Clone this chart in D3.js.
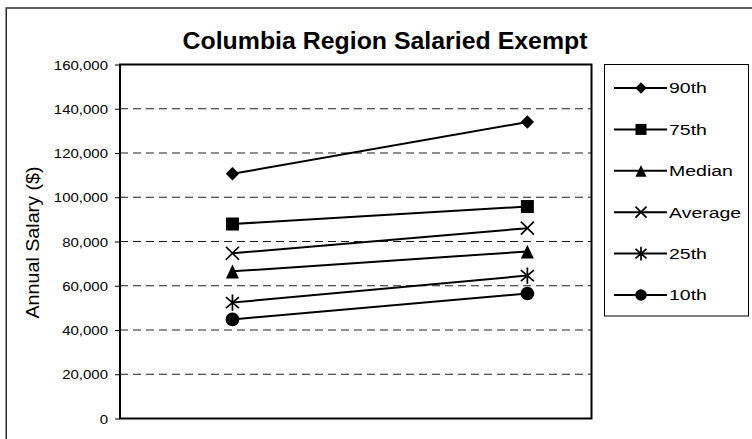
<!DOCTYPE html>
<html>
<head>
<meta charset="utf-8">
<script src="https://cdn.jsdelivr.net/npm/d3@7/dist/d3.min.js"></script>
<style>
  html, body { margin: 0; padding: 0; background: #fff; }
  svg { display: block; }
  text { font-family: "Liberation Sans", Arial, sans-serif; fill: #000; }
</style>
</head>
<body>
<svg id="chart" width="752" height="439"></svg>
<script>
// Salary percentiles, two survey periods
const categories = ["Period 1", "Period 2"];
const seriesNames = ["90th", "75th", "Median", "Average", "25th", "10th"];
const series90th    = [110600, 134000];
const series75th    = [87900, 95800];
const seriesMedian  = [66500, 75500];
const seriesAverage = [74700, 86000];
const series25th    = [52400, 64600];
const series10th    = [44800, 56500];
const yTicks = [0, 20000, 40000, 60000, 80000, 100000, 120000, 140000, 160000];
const chartTitle = "Columbia Region Salaried Exempt";
const yAxisTitle = "Annual Salary ($)";

const seriesValues = [series90th, series75th, seriesMedian, seriesAverage, series25th, series10th];
const markerKinds = ["diamond", "square", "triangle", "x", "star", "circle"];

const svg = d3.select("#chart");

// plot frame
const plot = { left: 120, top: 64.5, right: 591.5, bottom: 418.5 };
const plotW = plot.right - plot.left;

const y = d3.scaleLinear().domain([0, 160000]).range([plot.bottom, plot.top]);
const x = d3.scalePoint()
  .domain(categories)
  .range([plot.left + plotW * 0.2385, plot.left + plotW * 0.864]);

// outer chart border
svg.append("rect")
  .attr("x", 6.25).attr("y", 8).attr("width", 900).attr("height", 600)
  .attr("fill", "none").attr("stroke", "#2a2a2a").attr("stroke-width", 1.5);

// title
svg.append("text")
  .attr("x", 385).attr("y", 48.5)
  .attr("text-anchor", "middle")
  .attr("font-size", 23).attr("font-weight", "bold")
  .attr("textLength", 405).attr("lengthAdjust", "spacingAndGlyphs")
  .text(chartTitle);

// dashed gridlines
svg.append("g")
  .selectAll("line")
  .data(yTicks.filter(v => v > 0 && v < 160000))
  .join("line")
  .attr("x1", plot.left).attr("x2", plot.right)
  .attr("y1", d => y(d)).attr("y2", d => y(d))
  .attr("stroke", "#1e1e1e").attr("stroke-width", 1)
  .attr("stroke-dasharray", "8,5");

// y axis ticks and labels
const tickSx = 1.2;
const yAxis = svg.append("g")
  .attr("transform", `translate(${plot.left},0)`)
  .call(d3.axisLeft(y).tickValues(yTicks).tickSize(5).tickFormat(d3.format(",")));
yAxis.select(".domain").remove();
yAxis.selectAll(".tick line").attr("stroke", "#000").attr("stroke-width", 1);
yAxis.selectAll(".tick text")
  .attr("x", null).attr("dy", null)
  .attr("transform", `translate(-12,4.5) scale(${tickSx},1)`)
  .attr("font-size", 12.5)
  .attr("font-family", "'Liberation Sans', Arial, sans-serif")
  .attr("fill", "#000");

// y axis title
svg.append("text")
  .attr("transform", "translate(39,242.5) rotate(-90)")
  .attr("text-anchor", "middle")
  .attr("font-size", 18)
  .attr("textLength", 152).attr("lengthAdjust", "spacingAndGlyphs")
  .text(yAxisTitle);

// plot area frame
svg.append("rect")
  .attr("x", plot.left).attr("y", plot.top)
  .attr("width", plotW).attr("height", plot.bottom - plot.top)
  .attr("fill", "none").attr("stroke", "#000").attr("stroke-width", 2);

// marker drawing
function drawMarker(g, kind, s) {
  const h = s / 2;
  if (kind === "diamond") {
    g.append("path").attr("d", `M0,${-h * 1.03}L${h * 1.03},0L0,${h * 1.03}L${-h * 1.03},0Z`).attr("fill", "#000");
  } else if (kind === "square") {
    g.append("rect").attr("x", -h).attr("y", -h).attr("width", s).attr("height", s).attr("fill", "#000");
  } else if (kind === "triangle") {
    g.append("path").attr("d", `M0,${-h * 1.05}L${h},${h * 1.1}L${-h},${h * 1.1}Z`).attr("fill", "#000");
  } else if (kind === "x") {
    g.append("path").attr("d", `M${-h},${-h}L${h},${h}M${-h},${h}L${h},${-h}`)
      .attr("stroke", "#000").attr("stroke-width", 1.7).attr("fill", "none");
  } else if (kind === "star") {
    g.append("path")
      .attr("d", `M${-h},${-h * 0.85}L${h},${h * 0.85}M${-h},${h * 0.85}L${h},${-h * 0.85}M0,${-h * 1.25}L0,${h * 1.25}`)
      .attr("stroke", "#000").attr("stroke-width", 1.7).attr("fill", "none");
  } else if (kind === "circle") {
    g.append("circle").attr("r", h * 1.05).attr("fill", "#000");
  }
}

// series lines and markers
const line = d3.line().x((d, i) => x(categories[i])).y(d => y(d));
seriesValues.forEach((vals, si) => {
  const g = svg.append("g");
  g.append("path").attr("d", line(vals))
    .attr("fill", "none").attr("stroke", "#000").attr("stroke-width", 2);
  vals.forEach((v, i) => {
    const m = g.append("g").attr("transform", `translate(${x(categories[i])},${y(v)})`);
    drawMarker(m, markerKinds[si], 13);
  });
});

// legend
const legend = svg.append("g");
legend.append("rect")
  .attr("x", 604.5).attr("y", 64.5).attr("width", 144).attr("height", 251.5)
  .attr("fill", "#fff").attr("stroke", "#000").attr("stroke-width", 1);
const legSx = 1.3;
seriesNames.forEach((name, i) => {
  const cy = 88 + i * 41.4;
  legend.append("line")
    .attr("x1", 614).attr("x2", 667).attr("y1", cy).attr("y2", cy)
    .attr("stroke", "#000").attr("stroke-width", 2);
  const m = legend.append("g").attr("transform", `translate(641,${cy})`);
  drawMarker(m, markerKinds[i], 11);
  legend.append("text")
    .attr("transform", `translate(669,${cy + 5.3}) scale(${legSx},1)`)
    .attr("font-size", 15)
    .text(name);
});
</script>
</body>
</html>
